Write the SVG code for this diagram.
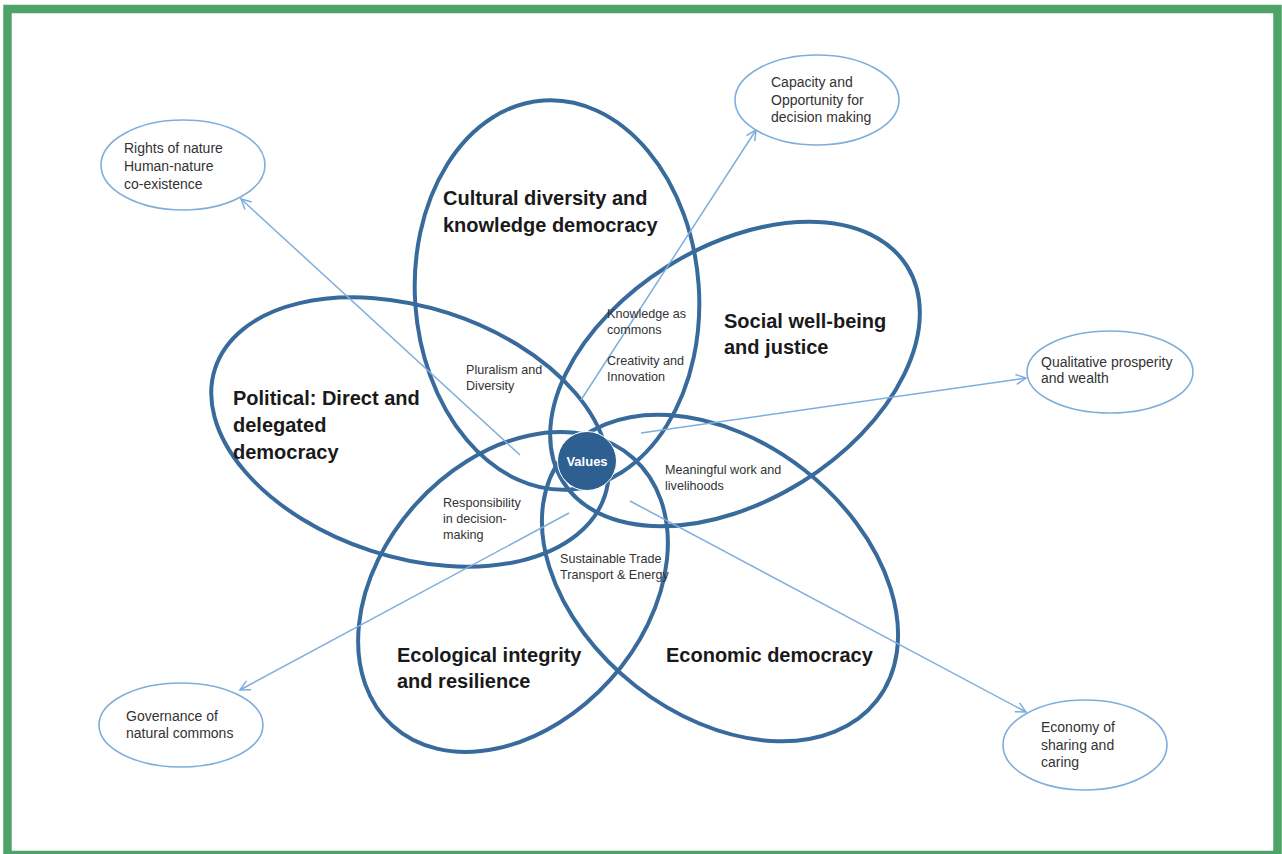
<svg xmlns="http://www.w3.org/2000/svg" width="1282" height="854" viewBox="0 0 1282 854">
<defs>
<style>
.big{fill:none;stroke:#386b9c;stroke-width:4}
.sm{fill:#fff;stroke:#7faedb;stroke-width:1.6}
.ar{stroke:#7faedb;stroke-width:1.5;fill:none;marker-end:url(#ah)}
.t1{font-family:"Liberation Sans",Arial,sans-serif;font-weight:bold;font-size:20px;fill:#1a1a1a}
.t2{font-family:"Liberation Sans",Arial,sans-serif;font-size:12.6px;fill:#333}
.t3{font-family:"Liberation Sans",Arial,sans-serif;font-size:14px;fill:#333}
</style>
<marker id="ah" viewBox="0 0 12 12" refX="11" refY="6" markerWidth="12" markerHeight="12" markerUnits="userSpaceOnUse" orient="auto">
<path d="M1,1 L11,6 L1,11" fill="none" stroke="#7faedb" stroke-width="1.5"/>
</marker>
</defs>
<rect x="0" y="0" width="1282" height="854" fill="#fff"/>
<rect x="7.5" y="9" width="1270" height="846" fill="#fff" stroke="#4ea468" stroke-width="8.5"/>

<g id="n-cultural">
<ellipse class="big" cx="557" cy="295" rx="142" ry="195" transform="rotate(-4 557 295)"/>
<text class="t1" x="443" y="205">Cultural diversity and</text>
<text class="t1" x="443" y="232">knowledge democracy</text>
</g>
<g id="n-social">
<ellipse class="big" cx="735" cy="374" rx="203" ry="127" transform="rotate(-32 735 374)"/>
<text class="t1" x="724" y="328">Social well-being</text>
<text class="t1" x="724" y="354">and justice</text>
</g>
<g id="n-political">
<ellipse class="big" cx="410" cy="432" rx="205" ry="125" transform="rotate(18 410 432)"/>
<text class="t1" x="233" y="405">Political: Direct and</text>
<text class="t1" x="233" y="432">delegated</text>
<text class="t1" x="233" y="459">democracy</text>
</g>
<g id="n-ecological">
<ellipse class="big" cx="513" cy="592" rx="180" ry="131" transform="rotate(-48 513 592)"/>
<text class="t1" x="397" y="662">Ecological integrity</text>
<text class="t1" x="397" y="688">and resilience</text>
</g>
<g id="n-economic">
<ellipse class="big" cx="720" cy="578" rx="199" ry="137" transform="rotate(38 720 578)"/>
<text class="t1" x="666" y="662">Economic democracy</text>
</g>

<g id="connectors">
<line class="ar" x1="520" y1="455" x2="241" y2="199"/>
<line class="ar" x1="581" y1="400" x2="756" y2="130"/>
<line class="ar" x1="641" y1="433" x2="1026" y2="378"/>
<line class="ar" x1="569" y1="513" x2="240" y2="690"/>
<line class="ar" x1="630" y1="501" x2="1026" y2="712"/>
</g>

<g id="n-values">
<circle cx="587" cy="461" r="29.5" fill="#2d5f91" stroke="#fff" stroke-width="1"/>
<text x="587" y="465.5" text-anchor="middle" font-family="Liberation Sans,Arial,sans-serif" font-weight="bold" font-size="13" fill="#fff">Values</text>
</g>

<g id="labels">
<text class="t2" x="607" y="318">Knowledge as</text>
<text class="t2" x="607" y="334">commons</text>
<text class="t2" x="607" y="365">Creativity and</text>
<text class="t2" x="607" y="381">Innovation</text>
<text class="t2" x="466" y="374">Pluralism and</text>
<text class="t2" x="466" y="390">Diversity</text>
<text class="t2" x="665" y="474">Meaningful work and</text>
<text class="t2" x="665" y="490">livelihoods</text>
<text class="t2" x="443" y="507">Responsibility</text>
<text class="t2" x="443" y="523">in decision-</text>
<text class="t2" x="443" y="539">making</text>
<text class="t2" x="560" y="563">Sustainable Trade</text>
<text class="t2" x="560" y="579">Transport &amp; Energy</text>
</g>

<g id="n-rights">
<ellipse class="sm" cx="183" cy="165" rx="82" ry="45"/>
<text class="t3" x="124" y="153">Rights of nature</text>
<text class="t3" x="124" y="171">Human-nature</text>
<text class="t3" x="124" y="189">co-existence</text>
</g>
<g id="n-capacity">
<ellipse class="sm" cx="817" cy="100" rx="82" ry="45"/>
<text class="t3" x="771" y="87">Capacity and</text>
<text class="t3" x="771" y="105">Opportunity for</text>
<text class="t3" x="771" y="122">decision making</text>
</g>
<g id="n-qualitative">
<ellipse class="sm" cx="1110" cy="372" rx="83" ry="41"/>
<text class="t3" x="1041" y="367">Qualitative prosperity</text>
<text class="t3" x="1041" y="383">and wealth</text>
</g>
<g id="n-governance">
<ellipse class="sm" cx="181" cy="725" rx="82" ry="42"/>
<text class="t3" x="126" y="721">Governance of</text>
<text class="t3" x="126" y="738">natural commons</text>
</g>
<g id="n-economy">
<ellipse class="sm" cx="1085" cy="745" rx="82" ry="45"/>
<text class="t3" x="1041" y="732">Economy of</text>
<text class="t3" x="1041" y="750">sharing and</text>
<text class="t3" x="1041" y="767">caring</text>
</g>
</svg>
